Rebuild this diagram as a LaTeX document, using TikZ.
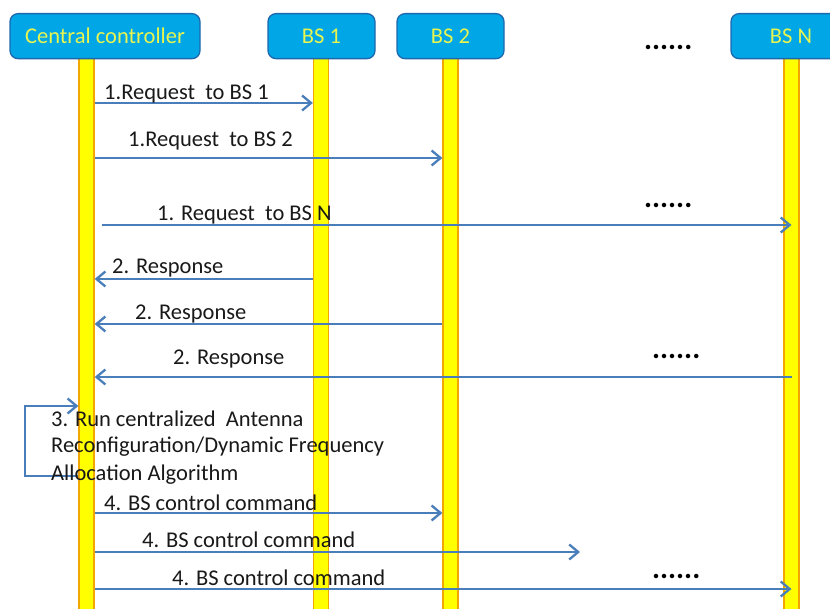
\documentclass[tikz,border=0pt]{standalone}
\usepackage{fontspec}
\setmainfont{Carlito}
\usetikzlibrary{arrows.meta}
\definecolor{boxfill}{HTML}{00A6E6}
\definecolor{boxline}{HTML}{1F68AE}
\definecolor{headtext}{HTML}{E8F550}
\definecolor{barfill}{HTML}{FFFF00}
\definecolor{barline}{HTML}{F2A600}
\definecolor{msgblue}{HTML}{4A7EBB}
\begin{document}
\begin{tikzpicture}[x=1pt,y=-1pt,
  header/.style={draw=boxline, line width=1.3pt, fill=boxfill, rounded corners=8pt,
    text=headtext, minimum height=45pt, inner sep=0pt, anchor=north,
    font=\fontsize{22.5}{26}\selectfont},
  lifeline/.style={draw=barline, line width=1.3pt, fill=barfill, minimum width=15pt,
    minimum height=560pt, inner sep=0pt, anchor=north},
  msg/.style={draw=msgblue, line width=2.3pt,
    -{Straight Barb[length=9pt,width=15pt,line width=2.3pt]}},
  msgtext/.style={anchor=base west, inner sep=0pt, text=black!90,
    font=\fontsize{22.5}{27}\selectfont},
  dots/.style={anchor=base west, inner sep=0pt, font=\fontsize{30}{30}\bfseries\selectfont}]
\useasboundingbox (0,0) rectangle (830,609);
\clip (0,0) rectangle (830,609);
\fill[white] (0,0) rectangle (830,609);

% lifelines
\node[lifeline] (ccL)  at (86.5,58) {};
\node[lifeline] (bs1L) at (321,58) {};
\node[lifeline] (bs2L) at (450.5,58) {};
\node[lifeline] (bsnL) at (791.5,58) {};

% participants
\node[header, minimum width=190pt] (cc)  at (105,13)  {Central controller};
\node[header, minimum width=107pt] (bs1) at (321.5,13) {BS 1};
\node[header, minimum width=107pt] (bs2) at (450.5,13) {BS 2};
\node[header, minimum width=120pt] (bsn) at (791,13)   {BS N};
\node[dots] (topdots) at (644,50) {......};

% free ends
\coordinate (cmdend) at (580,0);
\coordinate (loopx) at (25,0);

% 1. requests
\draw[msg] (ccL.east |- 0,103) -- (bs1L.west |- 0,103);
\node[msgtext] (req1) at (104,100) {1.Request\ \ to BS 1};
\draw[msg] (ccL.east |- 0,158) -- (bs2L.west |- 0,158);
\node[msgtext] (req2) at (128,147) {1.Request\ \ to BS 2};
\draw[msg] ([xshift=7pt]ccL.east |- 0,225) -- (bsnL.center |- 0,225);
\node[msgtext] (req3) at (157,221) {1. Request\ \ to BS N};
\node[dots] (dots1) at (644,208) {......};

% 2. responses
\draw[msg] (bs1L.west |- 0,279) -- (ccL.east |- 0,279);
\node[msgtext] (rsp1) at (112,274) {2. Response};
\draw[msg] (bs2L.west |- 0,324) -- (ccL.east |- 0,324);
\node[msgtext] (rsp2) at (135,320) {2. Response};
\draw[msg] (bsnL.center |- 0,377) -- (ccL.east |- 0,377);
\node[msgtext] (rsp3) at (173,365) {2. Response};
\node[dots] (dots2) at (652,359) {......};

% 3. local computation at the controller
\draw[msg] (ccL.west |- 0,476) -- (loopx |- 0,476) -- (loopx |- 0,406) -- (ccL.west |- 0,406);
\node[msgtext] (run1) at (51,426) {3. Run centralized\ \ Antenna};
\node[msgtext] (run2) at (51,453) {Reconfiguration/Dynamic Frequency};
\node[msgtext] (run3) at (51,480) {Allocation Algorithm};

% 4. control commands
\draw[msg] (ccL.east |- 0,513) -- (bs2L.west |- 0,513);
\node[msgtext] (cmd1) at (104,510) {4. BS control command};
\draw[msg] (ccL.east |- 0,552) -- (cmdend |- 0,552);
\node[msgtext] (cmd2) at (142,547) {4. BS control command};
\draw[msg] (ccL.east |- 0,589) -- (bsnL.center |- 0,589);
\node[msgtext] (cmd3) at (172,585) {4. BS control command};
\node[dots] (dots3) at (652,578) {......};
\end{tikzpicture}
\end{document}
